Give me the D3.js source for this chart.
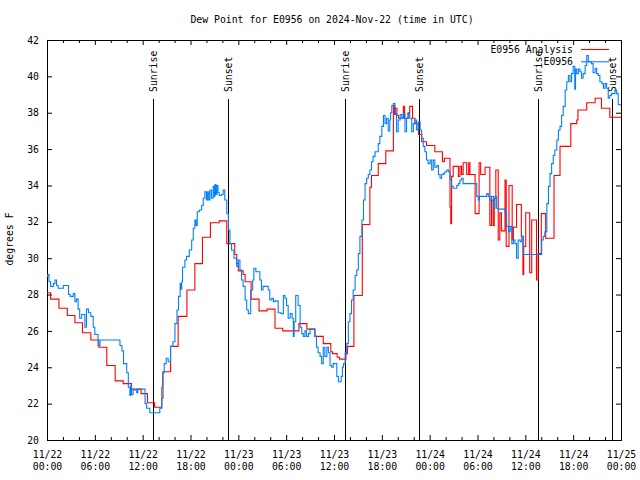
<!DOCTYPE html>
<html><head><meta charset="utf-8">
<script src="https://cdn.jsdelivr.net/npm/d3@7"></script>
<style>
body{margin:0;background:#fff}
svg{display:block}
text{font-family:"DejaVu Sans Mono",monospace;font-size:9.8px;fill:#000}
</style>
</head><body><svg id="c" width="640" height="480"></svg>
<script>
// ---- data (hours since 2024-11-22 00:00 UTC, degrees F) ----
const titleText = "Dew Point for E0956 on 2024-Nov-22 (time in UTC)";
const yLabelText = "degrees F";
const seriesNames = ["E0956 Analysis", "E0956"];
const seriesColors = ["#ff0000", "#0080ff"];

const analysisSeries = [
[0,28.1],[0.45,27.75],[1.5,27.25],[2.55,26.85],[3.5,26.45],[4.45,25.9],[5.5,25.5],[6.5,25.1],[7.5,24.1],[8.55,23.25],
[9.55,23.1],[10.6,22.8],[11.8,22.55],[12.6,22.05],[13.5,21.8],[14.4,22.3],[14.55,23.75],[15.5,25.15],[16.45,26.8],[17.55,28.25],
[18.55,29.7],[19.5,31.15],[20.5,31.95],[21.6,32.05],[22.55,30.8],[23.55,30.2],[23.8,29.7],[24.0,29.3],[24.6,29.1],[24.85,28.7],
[25.6,27.75],[26.6,27.1],[27.6,27.2],[28.6,26.15],[29.57,26.0],[31.6,26.4],[32.6,26.1],[33.6,25.7],[34.65,25.3],[35.6,24.85],
[35.8,24.75],[36.4,24.55],[36.7,24.45],[37.5,24.75],[37.7,25.15],[38.5,27.95],[39.55,31.85],[40.5,33.9],[40.7,34.55],[41.55,35.2],
[42.5,35.9],[43.45,38.4],[43.6,37.9],[43.7,38.25],[43.9,37.85],[44.1,37.7],[44.7,38.35],[44.85,37.7],[45.3,38.0],[45.5,38.35],
[45.85,37.7],[46.15,37.4],[46.6,36.8],[47.0,36.4],[47.6,36.2],[48.65,35.85],[49.6,35.3],[49.85,35.5],[50.55,32.8],[50.65,31.9],
[50.75,34.5],[50.95,35.05],[51.6,34.5],[51.8,35.05],[52.0,34.6],[52.2,35.25],[52.65,34.6],[52.9,35.25],[53.05,34.6],[53.7,32.45],
[54.2,35.25],[54.4,34.6],[54.95,35.0],[55.55,31.8],[55.75,33.2],[55.95,31.8],[56.1,33.3],[56.3,34.85],[56.6,31.0],[56.8,32.5],
[57.0,31.5],[57.45,34.3],[57.6,30.65],[57.95,34.0],[58.35,31.0],[58.5,31.7],[58.9,32.95],[59.5,31.2],[59.7,29.1],[59.8,30.65],
[60.05,32.5],[60.55,29.2],[60.8,32.1],[61.4,28.8],[61.6,30.25],[62.0,32.45],[62.55,31.1],[63.6,34.55],[64.35,36.15],[65.7,37.4],
[66.45,37.6],[66.6,38.15],[67.7,38.55],[68.75,38.8],[69.55,38.25],[70.6,37.75],[71.9,37.7]
];

const observedSeries = [
[0,29.0],[0.1,29.1],[0.25,28.7],[0.45,28.45],[0.8,28.6],[1.0,28.8],[1.2,28.5],[1.4,28.35],[2.05,28.5],[2.7,28.0],
[2.9,27.9],[3.3,28.05],[3.5,27.6],[3.7,27.75],[3.9,27.2],[4.1,26.7],[4.35,26.9],[4.75,26.2],[4.95,27.2],[5.2,27.0],
[5.5,26.8],[5.8,26.2],[6.0,25.8],[6.4,25.2],[6.65,25.5],[9.15,25.2],[9.4,24.9],[9.6,24.2],[10.0,23.7],[10.2,22.9],
[10.4,22.45],[10.5,23.0],[10.6,22.5],[10.8,22.75],[11.25,22.6],[11.4,22.8],[12.3,22.0],[12.5,21.75],[12.9,21.5],[14.15,21.75],
[14.4,22.9],[14.5,23.7],[14.7,24.2],[14.95,24.5],[15.2,24.3],[15.5,25.15],[15.8,25.4],[16.05,26.4],[16.3,27.15],[16.5,27.9],
[16.7,28.6],[16.8,28.3],[16.9,28.7],[17.0,29.5],[17.3,29.9],[17.5,30.1],[17.85,30.45],[18.15,31.0],[18.35,31.65],[18.55,32.1],
[18.7,31.8],[18.85,32.55],[19.1,32.65],[19.4,32.9],[19.6,33.3],[19.8,33.65],[20.0,33.2],[20.15,33.65],[20.3,33.2],[20.45,33.75],
[20.65,33.3],[20.85,33.95],[21.0,33.4],[21.07,34.05],[21.2,33.5],[21.3,34.0],[21.45,33.6],[21.6,33.45],[21.9,33.5],[22.1,33.75],
[22.3,33.2],[22.55,32.45],[22.75,31.55],[22.95,30.8],[23.15,30.45],[23.45,30.0],[23.8,29.55],[24.0,29.9],[24.2,29.35],[24.4,28.8],
[24.6,28.45],[24.85,27.7],[25.05,27.15],[25.25,26.95],[25.55,28.25],[25.8,28.8],[25.95,29.45],[26.2,29.25],[26.7,28.8],[26.9,28.25],
[27.1,28.45],[27.75,28.25],[27.95,27.7],[28.2,27.8],[28.4,27.6],[28.6,27.65],[29.0,27.0],[29.35,26.95],[29.65,27.95],[29.85,27.8],
[30.05,27.4],[30.25,26.7],[30.5,26.95],[30.75,26.7],[30.9,25.7],[31.0,26.5],[31.2,27.95],[31.5,27.4],[31.75,26.2],[31.95,25.85],
[32.15,25.7],[32.35,26.0],[32.55,25.7],[32.8,25.85],[33.0,26.1],[33.6,25.7],[33.8,25.1],[34.0,24.8],[34.25,24.6],[34.45,24.2],
[34.65,25.1],[34.85,24.6],[35.1,25.1],[35.3,24.8],[35.5,24.1],[35.7,24.0],[35.9,24.2],[36.15,24.2],[36.35,23.5],[36.55,23.2],
[36.9,23.5],[37.05,24.0],[37.2,24.2],[37.4,24.8],[37.6,25.3],[37.8,26.5],[38.0,26.95],[38.2,27.7],[38.4,28.25],[38.65,29.05],
[38.85,29.35],[39.05,30.25],[39.25,31.2],[39.5,32.1],[39.7,33.2],[39.9,34.1],[40.1,34.4],[40.3,34.6],[40.5,34.85],[40.7,35.3],
[40.9,35.6],[41.15,35.85],[41.55,36.3],[41.75,36.7],[42.0,37.25],[42.2,37.85],[42.4,37.4],[42.6,37.7],[42.8,37.0],[43.0,37.6],
[43.1,38.0],[43.25,38.4],[43.45,38.5],[43.65,37.95],[43.85,36.95],[44.05,37.6],[44.3,37.9],[44.5,37.7],[44.7,37.95],[44.9,36.95],
[45.1,37.7],[45.3,37.95],[45.5,37.7],[45.75,36.95],[45.95,37.4],[46.15,37.6],[46.35,37.05],[46.55,37.5],[46.8,37.05],[47.0,36.6],
[47.2,36.15],[47.4,35.85],[47.6,35.4],[47.8,35.2],[48.05,35.4],[48.25,34.85],[48.45,35.4],[48.65,35.0],[48.9,35.1],[49.1,34.6],
[49.3,34.4],[49.5,34.6],[49.7,34.65],[49.9,34.75],[50.15,34.85],[50.35,34.75],[50.55,34.3],[50.75,33.95],[50.95,33.85],[51.4,34.0],
[51.6,34.1],[51.8,34.3],[52.0,34.4],[52.2,34.1],[53.9,33.4],[54.1,33.2],[54.25,33.4],[55.15,33.55],[55.35,33.4],[55.55,33.2],
[55.75,33.4],[56.0,32.75],[56.2,33.4],[56.4,32.75],[56.6,32.7],[57.45,32.5],[57.65,31.75],[57.9,31.45],[58.1,31.75],[58.3,30.8],
[58.5,31.0],[58.7,30.8],[58.9,30.0],[59.1,31.0],[59.35,30.9],[59.55,31.2],[59.75,30.2],[60.15,30.2],[62.05,31.0],[62.25,31.2],
[62.45,31.45],[62.7,33.0],[62.9,33.95],[63.1,34.65],[63.3,35.2],[63.5,35.65],[63.7,35.95],[63.95,36.5],[64.15,37.05],[64.35,37.25],
[64.55,37.85],[64.75,38.35],[65.0,39.25],[65.2,39.7],[65.4,40.05],[65.6,39.7],[65.8,40.15],[66.0,40.55],[66.2,39.3],[66.3,40.4],
[66.45,40.15],[66.65,40.4],[66.85,40.25],[67.05,39.9],[67.25,40.15],[67.5,40.6],[67.7,41.15],[67.9,40.8],[68.3,40.7],[68.5,40.2],
[68.75,40.45],[68.95,40.15],[69.15,40.05],[69.35,39.7],[69.6,39.6],[69.8,39.35],[70.0,39.6],[70.2,39.35],[70.4,38.8],[70.6,38.95],
[70.8,39.05],[71.25,39.25],[71.45,39.05],[71.65,38.45],[71.9,38.4]
];

const sunEvents = [
  {t:13.33, label:"Sunrise"}, {t:22.74, label:"Sunset"},
  {t:37.42, label:"Sunrise"}, {t:46.70, label:"Sunset"},
  {t:61.55, label:"Sunrise"}, {t:70.83, label:"Sunset"}
];

const xMajorTicks = [0,6,12,18,24,30,36,42,48,54,60,66,72];
const xTickLabels = ["11/22|00:00","11/22|06:00","11/22|12:00","11/22|18:00","11/23|00:00","11/23|06:00","11/23|12:00",
                     "11/23|18:00","11/24|00:00","11/24|06:00","11/24|12:00","11/24|18:00","11/25|00:00"];
const xMinorTicks = [2,4,8,10,14,16,20,22,26,28,32,34,38,40,44,46,50,52,56,58,62,64,68,70];
const yTickValues = [20,22,24,26,28,30,32,34,36,38,40,42];

// ---- drawing ----
const svg = d3.select("#c");
const L=47, R=621, T=40, B=440;
const x = d3.scaleLinear().domain([0,72]).range([L,R]);
const y = d3.scaleLinear().domain([20,42]).range([B,T]);
const FONT = '"DejaVu Sans Mono", monospace';

svg.append("rect").attr("width",640).attr("height",480).attr("fill","#fff");

svg.append("text").attr("x",332).attr("y",23).attr("text-anchor","middle").text(titleText);

svg.append("text").attr("transform","translate(13,239) rotate(-90)")
  .attr("text-anchor","middle").text(yLabelText);

function styleAxis(g){ g.select(".domain").remove(); g.attr("font-family",FONT).attr("font-size","9.8px"); g.selectAll("line").attr("stroke","#000"); }

// bottom axis major with labels
const gB = svg.append("g").attr("transform",`translate(0,${B})`)
  .call(d3.axisBottom(x).tickValues(xMajorTicks).tickSize(-5).tickPadding(11).tickFormat((d,i)=>xTickLabels[i]));
styleAxis(gB);
gB.selectAll("text").each(function(){
  const t = d3.select(this); const parts = t.text().split("|"); t.text(null);
  t.append("tspan").attr("x",0).text(parts[0]);
  t.append("tspan").attr("x",0).attr("dy","1.25em").text(parts[1]);
});
const gBm = svg.append("g").attr("transform",`translate(0,${B})`)
  .call(d3.axisBottom(x).tickValues(xMinorTicks).tickSize(-3).tickFormat(""));
styleAxis(gBm);
// top axis
const gT = svg.append("g").attr("transform",`translate(0,${T})`)
  .call(d3.axisTop(x).tickValues(xMajorTicks).tickSize(-5).tickFormat(""));
styleAxis(gT);
const gTm = svg.append("g").attr("transform",`translate(0,${T})`)
  .call(d3.axisTop(x).tickValues(xMinorTicks).tickSize(-3).tickFormat(""));
styleAxis(gTm);
// left axis
const gL = svg.append("g").attr("transform",`translate(${L},0)`)
  .call(d3.axisLeft(y).tickValues(yTickValues).tickSize(-5).tickPadding(8).tickFormat(d3.format("d")));
styleAxis(gL);
// right axis
const gR = svg.append("g").attr("transform",`translate(${R},0)`)
  .call(d3.axisRight(y).tickValues(yTickValues).tickSize(-5).tickFormat(""));
styleAxis(gR);

// frame
svg.append("rect").attr("x",L+0.5).attr("y",T+0.5).attr("width",R-L).attr("height",B-T)
  .attr("fill","none").attr("stroke","#000").attr("stroke-width",1);

// sunrise/sunset
const sg = svg.append("g");
sunEvents.forEach(e=>{
  const px = Math.round(x(e.t))+0.5;
  sg.append("line").attr("x1",px).attr("x2",px).attr("y1",99).attr("y2",B)
    .attr("stroke","#000").attr("stroke-width",1);
  sg.append("text").attr("transform",`translate(${px+3.5},92) rotate(-90)`)
    .attr("text-anchor","start").text(e.label);
});

// clip
svg.append("clipPath").attr("id","clip").append("rect").attr("x",L).attr("y",T).attr("width",R-L).attr("height",B-T);

const line = d3.line().x(d=>x(d[0])).y(d=>y(d[1])).curve(d3.curveStepAfter);
const pg = svg.append("g").attr("clip-path","url(#clip)");
pg.append("path").datum(analysisSeries).attr("d",line).attr("fill","none")
  .attr("stroke",seriesColors[0]).attr("stroke-width",1.1);
pg.append("path").datum(observedSeries).attr("d",line).attr("fill","none")
  .attr("stroke",seriesColors[1]).attr("stroke-width",1.1);

// legend
const lg = svg.append("g");
seriesNames.forEach((n,i)=>{
  const ly = 49.5 + i*12.3;
  lg.append("text").attr("x",573).attr("y",ly+3.5).attr("text-anchor","end").text(n);
  lg.append("line").attr("x1",581).attr("x2",609).attr("y1",ly).attr("y2",ly)
    .attr("stroke",seriesColors[i]).attr("stroke-width",1.1);
});
</script></body></html>
